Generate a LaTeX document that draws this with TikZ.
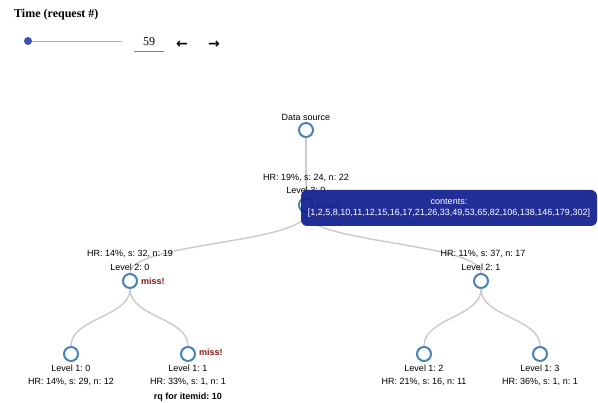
\documentclass[tikz,border=0pt]{standalone}
\usepackage{fontspec}
\setmainfont{Liberation Sans}
\newfontfamily\serifface{Liberation Serif}
\newfontfamily\symface{DejaVu Sans}
\usetikzlibrary{positioning}
\frenchspacing

\definecolor{nodeblue}{RGB}{70,130,180}
\definecolor{linkgray}{RGB}{204,204,204}
\definecolor{missred}{RGB}{139,26,26}
\definecolor{tipblue}{RGB}{20,34,145}
\definecolor{knobblue}{RGB}{63,81,181}

\tikzset{
  treenode/.style={circle, draw=nodeblue, line width=2pt, fill=white, minimum size=14pt, inner sep=0pt},
  txt/.style={font=\fontsize{9}{10}\selectfont, inner sep=0pt, anchor=base},
  missflag/.style={font=\fontsize{9}{10}\selectfont\bfseries, text=missred, inner sep=0pt},
  link/.style={draw=linkgray, line width=1.5pt},
}

\begin{document}
\begin{tikzpicture}[x=1pt, y=-1pt]
  \useasboundingbox (0,0) rectangle (598,403);

  % Time slider
  \node[font=\fontsize{12}{14}\serifface\bfseries, anchor=base west, inner sep=0pt] (title) at (14,18) {Time (request \#)};
  \node[circle, fill=knobblue, minimum size=8pt, inner sep=0pt] (knob) at (28,41) {};
  \coordinate (trackend) at (122,41);
  \draw[gray!60, line width=0.8pt] (knob.east) -- (trackend);
  \node[font=\fontsize{12}{14}\serifface, inner sep=0pt] (count) at (149,42) {59};
  \coordinate (ulstart) at (134,51);
  \coordinate (ulend) at (164,51);
  \draw[gray, line width=0.6pt] (ulstart) -- (ulend);
  \node[font=\fontsize{14}{16}\symface\bfseries, inner sep=0pt] (prev) at (182,45) {←};
  \node[font=\fontsize{14}{16}\symface\bfseries, inner sep=0pt] (next) at (214,45) {→};

  % Tree nodes
  \node[treenode] (ds) at (306,130) {};
  \node[treenode] (l3) at (306,205) {};
  \node[treenode] (l20) at (130,281) {};
  \node[treenode] (l21) at (481,281) {};
  \node[treenode] (l10) at (71,354) {};
  \node[treenode] (l11) at (188,354) {};
  \node[treenode] (l12) at (424,354) {};
  \node[treenode] (l13) at (540,354) {};

  % Links (d3 style diagonals)
  \draw[link] (ds) -- (l3);
  \draw[link] (l3) .. controls +(0,38) and +(0,-38) .. (l20);
  \draw[link] (l3) .. controls +(0,38) and +(0,-38) .. (l21);
  \draw[link] (l20) .. controls +(0,36) and +(0,-36) .. (l10);
  \draw[link] (l20) .. controls +(0,36) and +(0,-36) .. (l11);
  \draw[link] (l21) .. controls +(0,36) and +(0,-36) .. (l12);
  \draw[link] (l21) .. controls +(0,36) and +(0,-36) .. (l13);

  % Labels above
  \node[txt] (dsname) at ([yshift=9.5pt]ds.center) {Data source};
  \node[txt] (l3name) at ([yshift=11.5pt]l3.center) {Level 3: 0};
  \node[txt] (l3hr) at ([yshift=24.5pt]l3.center) {HR: 19\%, s: 24, n: 22};
  \node[txt] (l20name) at ([yshift=10.5pt]l20.center) {Level 2: 0};
  \node[txt] (l20hr) at ([yshift=24.5pt]l20.center) {HR: 14\%, s: 32, n: 19};
  \node[txt] (l21name) at ([yshift=10.5pt]l21.center) {Level 2: 1};
  \node[txt] (l21hr) at ([xshift=2pt, yshift=24.5pt]l21.center) {HR: 11\%, s: 37, n: 17};

  % Labels below
  \node[txt] (l10name) at ([yshift=-17.5pt]l10.center) {Level 1: 0};
  \node[txt] (l10hr) at ([yshift=-30.5pt]l10.center) {HR: 14\%, s: 29, n: 12};
  \node[txt] (l11name) at ([yshift=-17.5pt]l11.center) {Level 1: 1};
  \node[txt] (l11hr) at ([yshift=-30.5pt]l11.center) {HR: 33\%, s: 1, n: 1};
  \node[txt, font=\fontsize{9}{10}\selectfont\bfseries] (rq) at ([yshift=-45.5pt]l11.center) {rq for itemid: 10};
  \node[txt] (l12name) at ([yshift=-17.5pt]l12.center) {Level 1: 2};
  \node[txt] (l12hr) at ([yshift=-30.5pt]l12.center) {HR: 21\%, s: 16, n: 11};
  \node[txt] (l13name) at ([yshift=-17.5pt]l13.center) {Level 1: 3};
  \node[txt] (l13hr) at ([yshift=-30.5pt]l13.center) {HR: 36\%, s: 1, n: 1};

  % Miss flags
  \node[missflag, right=3pt of l3] (l3miss) {miss!};
  \node[missflag, right=3pt of l20] (l20miss) {miss!};
  \node[missflag, right=3pt of l11, yshift=2pt] (l11miss) {miss!};

  % Tooltip
  \node[fill=tipblue, fill opacity=0.94, text opacity=1, text=white, rounded corners=6pt,
        minimum width=296pt, minimum height=36pt, inner sep=0pt, align=center,
        font=\fontsize{9}{11}\selectfont] (tip) at (449,208)
        {contents:\\{}[1,2,5,8,10,11,12,15,16,17,21,26,33,49,53,65,82,106,138,146,179,302]};

\end{tikzpicture}
\end{document}
